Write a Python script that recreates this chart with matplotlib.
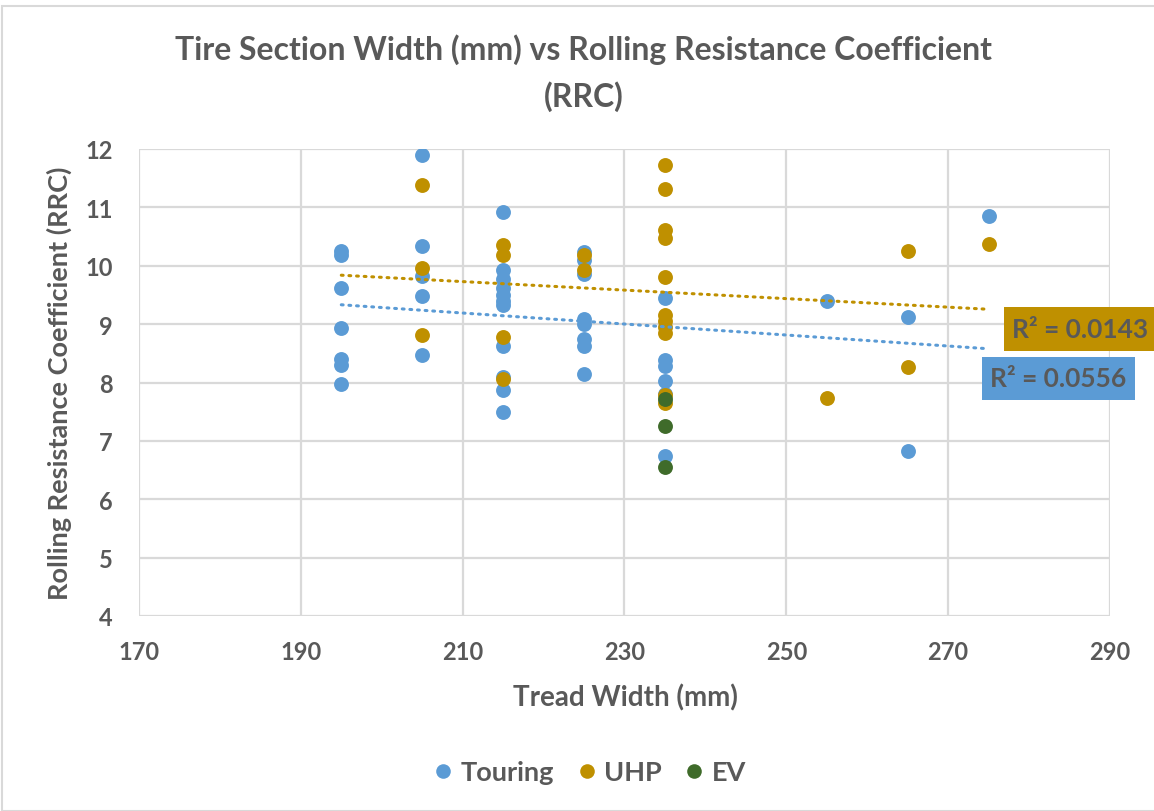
import numpy as np
import matplotlib
matplotlib.use("Agg")
import matplotlib.pyplot as plt
from matplotlib.patches import Rectangle
from matplotlib.lines import Line2D

plt.rcParams['font.family'] = ['Lato', 'DejaVu Sans']
plt.rcParams['font.weight'] = 'bold'

# ---- data ----
touring_x = [195]*7 + [205]*5 + [215]*11 + [225]*8 + [235]*6 + [255] + [265]*2 + [275]
touring_y = [10.25, 10.18, 9.62, 8.93, 8.40, 8.30, 7.97,
             11.90, 10.33, 9.83, 9.48, 8.47,
             10.92, 9.92, 9.78, 9.62, 9.50, 9.40, 9.33, 8.63, 8.10, 7.88, 7.50,
             10.23, 10.10, 9.86, 9.08, 9.00, 8.74, 8.62, 8.14,
             9.45, 8.38, 8.28, 8.03, 7.80, 6.74,
             9.40,
             9.12, 6.83,
             10.85]
uhp_x = [205]*3 + [215]*4 + [225]*2 + [235]*11 + [255] + [265]*2 + [275]
uhp_y = [11.38, 9.97, 8.82,
         10.35, 10.18, 8.78, 8.06,
         10.18, 9.92,
         11.73, 11.32, 10.62, 10.47, 9.80, 9.15, 9.05, 8.95, 8.85, 7.78, 7.65,
         7.73,
         10.25, 8.26,
         10.37]
ev_x = [235, 235, 235]
ev_y = [7.72, 7.25, 6.55]

series_names = ["Touring", "UHP", "EV"]
r2_labels = ["R² = 0.0556", "R² = 0.0143"]
x_ticks = [170, 190, 210, 230, 250, 270, 290]
y_ticks = [4, 5, 6, 7, 8, 9, 10, 11, 12]

c_tour = "#5B9BD5"
c_uhp = "#BF9000"
c_ev = "#3F6B2A"
grey = "#595959"

W, H = 1154, 812
fig = plt.figure(figsize=(W/100, H/100), dpi=100)
ax = fig.add_axes([139/W, 1-617/H, (1110-139)/W, (617-150)/H])

# chart border
fig.patches.append(Rectangle((2/W, 0), 1.2, 1-7/H, transform=fig.transFigure,
                             fill=False, edgecolor="#D9D9D9", lw=1.5))

ax.set_xlim(170, 290)
ax.set_ylim(4, 12)
ax.set_xticks(x_ticks)
ax.set_yticks(y_ticks)
ax.grid(True, color="#D9D9D9", lw=1.6)
ax.set_axisbelow(True)
for s in ax.spines.values():
    s.set_visible(False)
ax.tick_params(length=0, labelsize=17, labelcolor=grey)
ax.tick_params(axis="x", pad=17)
ax.tick_params(axis="y", pad=19)

ms = 115
ax.scatter(touring_x, touring_y, s=ms, color=c_tour, zorder=3, linewidths=0)
ax.scatter(uhp_x, uhp_y, s=ms, color=c_uhp, zorder=3, linewidths=0)
ax.scatter(ev_x, ev_y, s=ms, color=c_ev, zorder=3, linewidths=0)

# trendlines (least-squares fit of each series)
xmin, xmax = min(touring_x), max(touring_x)
xs = np.array([xmin, xmax])
for xd, yd, c in [(touring_x, touring_y, c_tour), (uhp_x, uhp_y, c_uhp)]:
    k, b = np.polyfit(xd, yd, 1)
    ax.plot(xs, k*xs + b, color=c, lw=2.2, linestyle=(0, (0.6, 1.9)),
            dash_capstyle="round", zorder=4)

# R² boxes
def r2box(x0, y0, x1, y1, color, text):
    fig.patches.append(Rectangle((x0/W, 1-y1/H), (x1-x0)/W, (y1-y0)/H,
                                 transform=fig.transFigure, facecolor=color,
                                 edgecolor="none", zorder=10))
    fig.text((x0+8)/W, 1-((y0+y1)/2)/H, text, ha="left", va="center",
             fontsize=19, fontweight="bold", color=grey, zorder=11)

r2box(1004, 308, 1160, 352, c_uhp, r2_labels[1])
r2box(982, 358, 1135, 401, c_tour, r2_labels[0])

fig.text(584/W, 1-50/H, "Tire Section Width (mm) vs Rolling Resistance Coefficient",
         ha="center", va="center", fontsize=23, fontweight="bold", color=grey)
fig.text(584/W, 1-97/H, "(RRC)", ha="center", va="center",
         fontsize=23, fontweight="bold", color=grey)

fig.text(625/W, 1-698/H, "Tread Width (mm)", ha="center", va="center",
         fontsize=20, fontweight="bold", color=grey)
fig.text(59/W, 1-383/H, "Rolling Resistance Coefficient (RRC)", ha="center",
         va="center", rotation=90, fontsize=19.5, fontweight="bold", color=grey)

handles = [Line2D([], [], marker="o", linestyle="", markersize=10.5, color=c,
                  markeredgewidth=0) for c in (c_tour, c_uhp, c_ev)]
leg = fig.legend(handles, series_names, loc="center", bbox_to_anchor=(588/W, 1-773/H),
                 ncol=3, frameon=False, fontsize=19.5, handletextpad=0.15,
                 columnspacing=0.7, handlelength=1.0)
for t in leg.get_texts():
    t.set_color(grey)
    t.set_fontweight("bold")

fig.savefig("out.png", dpi=100)
